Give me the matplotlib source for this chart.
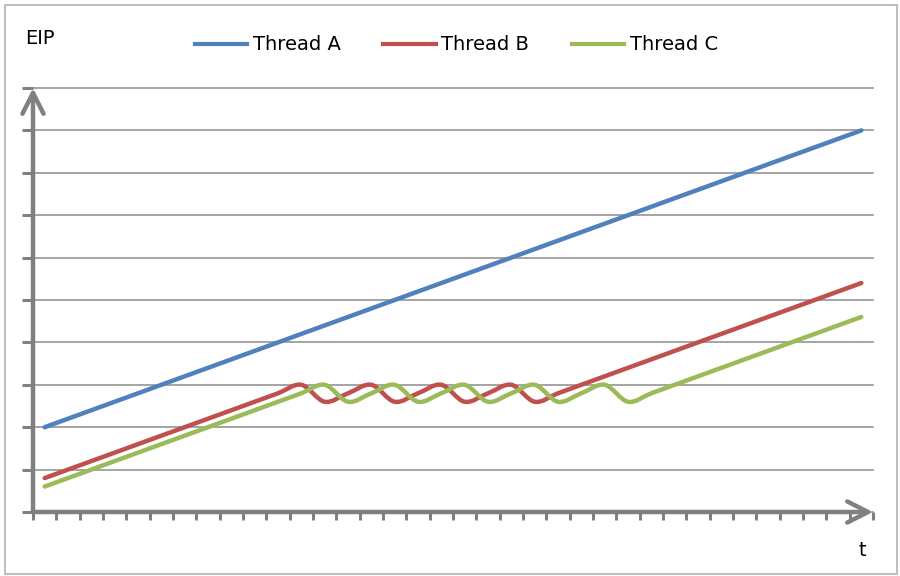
import matplotlib
matplotlib.use("Agg")
import matplotlib.pyplot as plt
import numpy as np
from matplotlib.path import Path
from matplotlib.patches import PathPatch, Rectangle
from matplotlib.lines import Line2D

# time steps (category positions)
steps = list(range(36))

thread_a = [2.0, 2.2, 2.4, 2.6, 2.8, 3.0, 3.2, 3.4, 3.6, 3.8, 4.0, 4.2,
            4.4, 4.6, 4.8, 5.0, 5.2, 5.4, 5.6, 5.8, 6.0, 6.2, 6.4, 6.6,
            6.8, 7.0, 7.2, 7.4, 7.6, 7.8, 8.0, 8.2, 8.4, 8.6, 8.8, 9.0]
thread_b = [0.8, 1.0, 1.2, 1.4, 1.6, 1.8, 2.0, 2.2, 2.4, 2.6, 2.8, 3.0,
            2.6, 2.8, 3.0, 2.6, 2.8, 3.0, 2.6, 2.8, 3.0, 2.6, 2.8, 3.0,
            3.2, 3.4, 3.6, 3.8, 4.0, 4.2, 4.4, 4.6, 4.8, 5.0, 5.2, 5.4]
thread_c = [0.6, 0.8, 1.0, 1.2, 1.4, 1.6, 1.8, 2.0, 2.2, 2.4, 2.6, 2.8,
            3.0, 2.6, 2.8, 3.0, 2.6, 2.8, 3.0, 2.6, 2.8, 3.0, 2.6, 2.8,
            3.0, 2.6, 2.8, 3.0, 3.2, 3.4, 3.6, 3.8, 4.0, 4.2, 4.4, 4.6]

series_names = ["Thread A", "Thread B", "Thread C"]
series_colors = ["#4F81BD", "#C0504D", "#9BBB59"]
axis_gray = "#808080"


def smooth_path(xs, ys):
    # Excel-like smoothed line: Catmull-Rom segments as cubic Beziers
    p = np.column_stack([xs, ys]).astype(float)
    ext = np.vstack([p[0], p, p[-1]])
    verts = [p[0]]
    codes = [Path.MOVETO]
    for i in range(len(p) - 1):
        p0, p1, p2, p3 = ext[i], ext[i + 1], ext[i + 2], ext[i + 3]
        verts += [p1 + (p2 - p0) / 6, p2 - (p3 - p1) / 6, p2]
        codes += [Path.CURVE4] * 3
    return Path(verts, codes)


fig = plt.figure(figsize=(9, 5.76), dpi=100)
ax = fig.add_axes([33 / 900, 64 / 576, 840 / 900, 424 / 576])

ax.set_xlim(-0.5, 35.5)
ax.set_ylim(0, 10)
for s in ax.spines.values():
    s.set_visible(False)

ax.set_yticks(range(0, 11))
ax.set_xticks(np.arange(-0.5, 36, 1))
ax.set_xticklabels([])
ax.set_yticklabels([])
ax.grid(axis="y", color="#8c8c8c", lw=1.1)
for gl in ax.get_ygridlines():
    gl.set_clip_on(False)
ax.tick_params(axis="y", length=8, width=2.2, color=axis_gray, direction="out")
ax.tick_params(axis="x", length=5.8, width=2.2, color=axis_gray, direction="out")
ax.set_axisbelow(True)

for ys, col in zip([thread_a, thread_b, thread_c], series_colors):
    ax.add_patch(PathPatch(smooth_path(steps, ys), fill=False, edgecolor=col,
                           lw=3.2, capstyle="round", joinstyle="round", zorder=3))

# axis arrows
arrow = dict(arrowstyle="->,head_length=0.75,head_width=0.38", lw=3.2,
             color=axis_gray, mutation_scale=20, shrinkA=0, shrinkB=0)
ax.annotate("", xy=(0, 1), xytext=(0, 0), xycoords="axes fraction", arrowprops=arrow, zorder=2)
ax.annotate("", xy=(1, 0), xytext=(0, 0), xycoords="axes fraction", arrowprops=arrow, zorder=2)

handles = [Line2D([], [], color=c, lw=3) for c in series_colors]
fig.legend(handles, series_names, loc="center", bbox_to_anchor=(0.507, 0.922),
           ncol=3, frameon=False, fontsize=14, handlelength=2.7, handletextpad=0.27,
           columnspacing=2.2)

fig.text(25 / 900, 1 - 38 / 576, "EIP", fontsize=14, va="center", ha="left")
fig.text(862 / 900, 1 - 551 / 576, "t", fontsize=14, va="center", ha="center")

fig.patches.append(Rectangle((5 / 900, 2 / 576), 892 / 900, 569 / 576, transform=fig.transFigure,
                             fill=False, edgecolor="#bfbfbf", lw=1.5))

fig.savefig("out.png", dpi=100)
